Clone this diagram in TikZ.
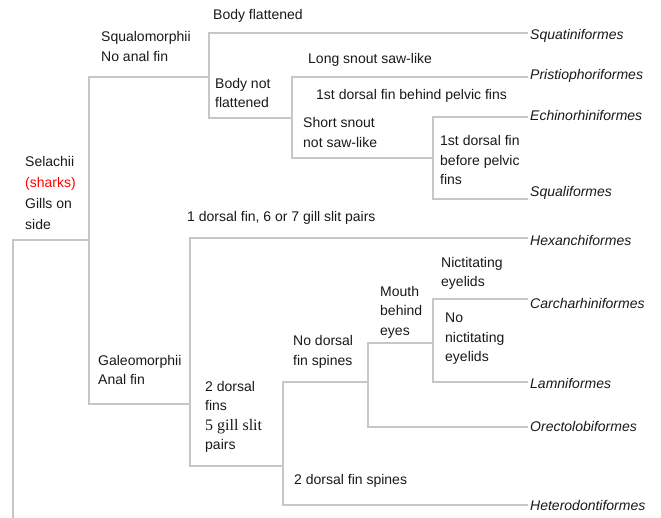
\documentclass[tikz,border=0pt]{standalone}
\usepackage{fontspec}
\setmainfont{Liberation Sans}
\newfontfamily\gillfont{Liberation Serif}
\usetikzlibrary{positioning}

\begin{document}
\begin{tikzpicture}[x=1pt,y=-1pt,
		branch/.style={line width=1.6pt,draw=black!22},
		taxon/.style={anchor=west,inner sep=2pt,text=black!90,font=\fontsize{14}{19.5}\selectfont\itshape},
		trait/.style={anchor=west,inner sep=0pt,align=left,text=black!90,font=\fontsize{14}{19.5}\selectfont}]
		\useasboundingbox (0,0) rectangle (661,518);
		% orders
		\node[taxon] (squatini) at (528,36) {Squatiniformes};
		\node[taxon] (pristio) at (528,76) {Pristiophoriformes};
		\node[taxon] (echino) at (528,115) {Echinorhiniformes};
		\node[taxon] (squali) at (528,193) {Squaliformes};
		\node[taxon] (hexanchi) at (528,240) {Hexanchiformes};
		\node[taxon] (carcha) at (528,303) {Carcharhiniformes};
		\node[taxon] (lamni) at (528,383) {Lamniformes};
		\node[taxon] (orecto) at (528,426) {Orectolobiformes};
		\node[taxon] (hetero) at (528,505) {Heterodontiformes};
		% characters
		\node[trait,font=\fontsize{14}{21}\selectfont] (selachii) at (25,193) {Selachii\\\textcolor{red}{(sharks)}\\Gills on\\side};
		\node[trait] (squalo) at (101,46.5) {Squalomorphii\\No anal fin};
		\node[trait] (galeo) at (98,370) {Galeomorphii\\Anal fin};
		\node[trait] (flat) at (213,16) {Body flattened};
		\node[trait] (notflat) at (215,93) {Body not\\flattened};
		\node[trait] (longsn) at (308,60) {Long snout saw-like};
		\node[trait] (shortsn) at (303,132.5) {Short snout\\not saw-like};
		\node[trait] (behind) at (316,96) {1st dorsal fin behind pelvic fins};
		\node[trait] (before) at (440,160) {1st dorsal fin\\before pelvic\\fins};
		\node[trait] (onedors) at (187,218) {1 dorsal fin, 6 or 7 gill slit pairs};
		\node[trait] (twodors) at (205,417) {2 dorsal\\fins\\{\gillfont\fontsize{16}{19.5}\selectfont 5 gill slit}\\pairs};
		\node[trait] (nospine) at (293,352) {No dorsal\\fin spines};
		\node[trait] (spines) at (294,481) {2 dorsal fin spines};
		\node[trait] (mouth) at (380,312) {Mouth\\behind\\eyes};
		\node[trait] (nict) at (441,273.5) {Nictitating\\eyelids};
		\node[trait] (nonict) at (445,339) {No\\nictitating\\eyelids};
		% branch points
		\coordinate (base) at (13,518);
		\coordinate (sel) at (13,240);
		\coordinate (sqa) at (89,77);
		\coordinate (sqb) at (209,77);
		\coordinate (gaa) at (89,404);
		\coordinate (gab) at (190,404);
		\coordinate (flatj) at (209,33);
		\coordinate (nflatj) at (209,118);
		\coordinate (lsnj) at (292,77);
		\coordinate (ssnj) at (292,158);
		\coordinate (echj) at (433,117);
		\coordinate (sqlj) at (433,199);
		\coordinate (hexj) at (190,238);
		\coordinate (twoj) at (190,466);
		\coordinate (nsj) at (283,382);
		\coordinate (spj) at (283,505);
		\coordinate (mbj) at (368,343);
		\coordinate (orj) at (368,427);
		\coordinate (nicj) at (433,299);
		\coordinate (nnj) at (433,382);
		% tree
		\draw[branch] (base) -- (sel) -- (sel -| sqa);
		\draw[branch] (sqb) -- (sqa) -- (gaa) -- (gab);
		\draw[branch] (flatj -| squatini.west) -- (flatj) -- (nflatj) -- (nflatj -| lsnj);
		\draw[branch] (lsnj -| pristio.west) -- (lsnj) -- (ssnj) -- (ssnj -| echj);
		\draw[branch] (echj -| echino.west) -- (echj) -- (sqlj) -- (sqlj -| squali.west);
		\draw[branch] (hexj -| hexanchi.west) -- (hexj) -- (twoj) -- (twoj -| nsj);
		\draw[branch] (nsj -| mbj) -- (nsj) -- (spj) -- (spj -| hetero.west);
		\draw[branch] (mbj -| nicj) -- (mbj) -- (orj) -- (orj -| orecto.west);
		\draw[branch] (nicj -| carcha.west) -- (nicj) -- (nnj) -- (nnj -| lamni.west);
	\end{tikzpicture}
\end{document}
